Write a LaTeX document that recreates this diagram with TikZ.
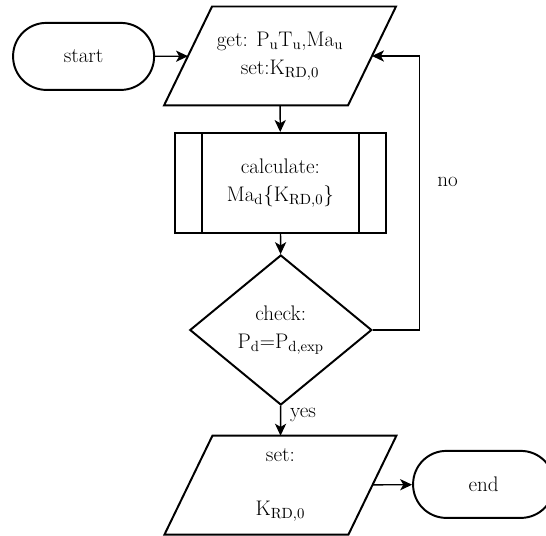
\documentclass[tikz,border=0pt]{standalone}
\usetikzlibrary{arrows.meta, positioning, shapes.geometric, calc}
\tikzset{
  every picture/.style={line width=1.4pt},
  term/.style={draw, rectangle, rounded corners=0.83cm, minimum width=3.525cm, minimum height=1.675cm, align=center},
  io/.style={rectangle, minimum width=4.55cm, minimum height=2.425cm, align=center, inner sep=1pt},
  proc/.style={draw, rectangle, minimum width=5.275cm, minimum height=2.5cm, align=center},
  test/.style={draw, diamond, minimum width=4.55cm, minimum height=3.75cm, align=center, inner sep=0pt},
  arrow/.style={-{Stealth[length=3mm, width=2.8mm, inset=0.8mm]}, line width=1pt},
  tag/.style={inner sep=2pt},
}

\begin{document}
\begin{tikzpicture}[every node/.append style={font=\fontsize{15}{20}\selectfont}]
  \useasboundingbox (0,0) rectangle (13.65,-13.4);
  \node[term] (start) at (2.09,-1.41) {start};
  \node[io] (get) at (7.0,-1.4) {get: P\textsubscript{u}T\textsubscript{u},Ma\textsubscript{u}\\set:K\textsubscript{RD,0}};
  \node[proc] (calc) at (7.01,-4.575) {calculate:\\Ma\textsubscript{d}\{K\textsubscript{RD,0}\}};
  \node[test] (check) at (7.02,-8.25) {check:\\P\textsubscript{d}=P\textsubscript{d,exp}};
  \node[io] (set) at (7.01,-12.13) {set:\\[0.65cm]K\textsubscript{RD,0}};
  \node[term] (end) at (12.09,-12.11) {end};
  % slanted outline of the in/out boxes
  \foreach \n in {get,set}
    \draw ([xshift=0.6cm]\n.north west) -- ([xshift=0.6cm]\n.north east)
      -- ([xshift=-0.6cm]\n.south east) -- ([xshift=-0.6cm]\n.south west) -- cycle;
  % side bars of the subroutine box
  \draw ([xshift=0.7cm]calc.north west) -- ([xshift=0.7cm]calc.south west);
  \draw ([xshift=-0.7cm]calc.north east) -- ([xshift=-0.7cm]calc.south east);
  \draw[arrow] (start) -- (get);
  \draw[arrow] (get) -- (calc);
  \draw[arrow] (calc) -- (check);
  \draw[arrow] (check) -- node[tag, right=0.15cm, pos=0.3] {yes} (set);
  \draw[arrow] (check.east) -- ++(1.175,0) |- node[tag, right=0.35cm, pos=0.27] {no} (get.east);
  \draw[arrow] (set) -- (end);
\end{tikzpicture}
\end{document}
